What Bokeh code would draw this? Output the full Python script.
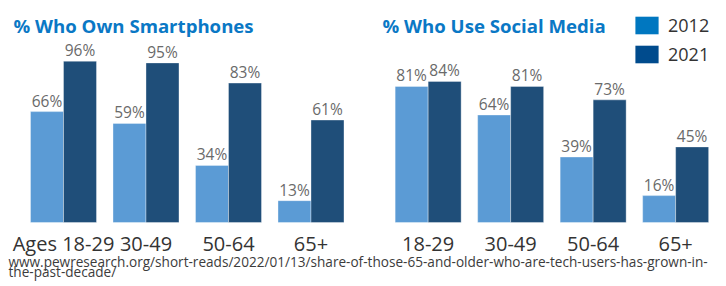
from bokeh.plotting import figure
from bokeh.models import Range1d, Label, Legend, LegendItem, ColumnDataSource
from bokeh.core.properties import value
from bokeh.embed import file_html
from bokeh.resources import INLINE

# ---- data ----
years = ["2012", "2021"]
groups_left = ["Ages 18-29", "30-49", "50-64", "65+"]
groups_right = ["18-29", "30-49", "50-64", "65+"]
smart_2012 = [66, 59, 34, 13]
smart_2021 = [96, 95, 83, 61]
social_2012 = [81, 64, 39, 16]
social_2021 = [84, 81, 73, 45]
title_left = "% Who Own Smartphones"
title_right = "% Who Use Social Media"
source_lines = [
    "www.pewresearch.org/short-reads/2022/01/13/share-of-those-65-and-older-who-are-tech-users-has-grown-in-",
    "the-past-decade/",
]

# ---- style ----
FONT = "Open Sans"
C_LIGHT = "#5b9bd5"
C_DARK = "#1f4e79"
C_LEG_LIGHT = "#0077c0"
C_LEG_DARK = "#004b8d"
C_TITLE = "#0a78c5"
PANEL_GAP = 4.42
DODGE = 0.2
BAR_W = 0.4

W, H = 722, 284
p = figure(width=W, height=H, output_backend="svg", toolbar_location=None,
           x_range=Range1d(-0.7636, 7.988), y_range=Range1d(-36.9, 132.14),
           min_border=0, min_border_left=0, min_border_right=0,
           min_border_top=0, min_border_bottom=0)
p.axis.visible = False
p.grid.visible = False
p.outline_line_color = None
p.background_fill_color = "white"
p.border_fill_color = "white"

def panel(offset, cats, v12, v21):
    xs = [offset + i for i in range(len(cats))]
    s12 = ColumnDataSource(dict(x=[x - DODGE for x in xs], top=v12,
                                lab=[f"{v}%" for v in v12]))
    s21 = ColumnDataSource(dict(x=[x + DODGE for x in xs], top=v21,
                                lab=[f"{v}%" for v in v21]))
    p.vbar(x="x", top="top", bottom=0, width=BAR_W, source=s12,
           fill_color=C_LIGHT, line_color="white", line_alpha=0.6, line_width=0.6)
    p.vbar(x="x", top="top", bottom=0, width=BAR_W, source=s21,
           fill_color=C_DARK, line_color="white", line_alpha=0.6, line_width=0.6)
    for s in (s12, s21):
        p.text(x="x", y="top", text="lab", source=s, text_align="center",
               text_baseline="alphabetic", y_offset=-11,
               text_font=value(FONT), text_font_size="15.5px", text_color="#6a6a6a")
    sc = ColumnDataSource(dict(x=xs, y=[0] * len(xs), t=cats))
    p.text(x="x", y="y", text="t", source=sc, text_align="center",
           text_baseline="alphabetic", y_offset=21,
           text_font=value(FONT), text_font_size="20px", text_color="#333333")
    return s12, s21

s12, s21 = panel(0, groups_left, smart_2012, smart_2021)
panel(PANEL_GAP, groups_right, social_2012, social_2021)

# titles
for txt, x in ((title_left, 13), (title_right, 382)):
    p.add_layout(Label(x=x, y=H - 25, x_units="screen", y_units="screen", text=txt,
                       text_font=FONT, text_font_size="18.6px", text_font_style="bold",
                       text_color=C_TITLE, text_baseline="alphabetic"))

# source lines
for txt, yb in zip(source_lines, (261, 270.5)):
    p.add_layout(Label(x=8, y=H - yb, x_units="screen", y_units="screen", text=txt,
                       text_font=FONT, text_font_size="13.6px", text_color="#3c3c3c",
                       text_baseline="alphabetic"))

# legend: zero-height, outline-free bars only supply the swatch colours
r1 = p.vbar(x="x", top=0, bottom=0, width=BAR_W, source=s12,
            fill_color=C_LEG_LIGHT, line_color=None)
r2 = p.vbar(x="x", top=0, bottom=0, width=BAR_W, source=s21,
            fill_color=C_LEG_DARK, line_color=None)
leg = Legend(items=[LegendItem(label=years[0], renderers=[r1]),
                    LegendItem(label=years[1], renderers=[r2])],
             location=(632, H - 17 - 49), padding=0, margin=0, spacing=5,
             glyph_width=29, glyph_height=22, label_standoff=7,
             label_text_font=FONT, label_text_font_size="18px",
             label_text_color="#333333", label_height=22,
             background_fill_alpha=0, border_line_alpha=0)
p.add_layout(leg, "center")

open("out.html", "w").write(file_html(p, INLINE))
